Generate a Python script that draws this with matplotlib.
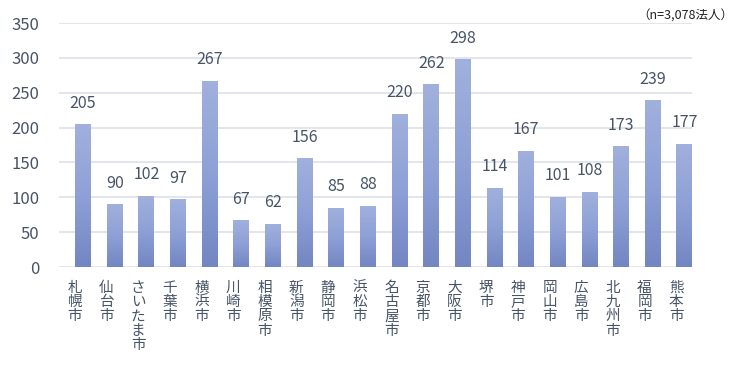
import numpy as np
import matplotlib
matplotlib.use("Agg")
import matplotlib.pyplot as plt
from matplotlib.colors import LinearSegmentedColormap

plt.rcParams['font.family'] = ['Noto Sans CJK JP', 'DejaVu Sans']

cities = ["札幌市", "仙台市", "さいたま市", "千葉市", "横浜市", "川崎市", "相模原市",
          "新潟市", "静岡市", "浜松市", "名古屋市", "京都市", "大阪市", "堺市",
          "神戸市", "岡山市", "広島市", "北九州市", "福岡市", "熊本市"]
counts = [205, 90, 102, 97, 267, 67, 62, 156, 85, 88, 220, 262, 298, 114,
          167, 101, 108, 173, 239, 177]
yticks = [0, 50, 100, 150, 200, 250, 300, 350]
note = "（n=3,078法人）"

text_col = "#475468"
grid_col = "#dfe3ea"

fig = plt.figure(figsize=(7.5, 3.65), dpi=100)
ax = fig.add_axes([59/750, 1-267/365, (692-59)/750, (267-23)/365])

x = np.arange(len(cities))
bars = ax.bar(x + 0.26, counts, width=0.5, color="none", zorder=3)

# vertical gradient in each bar, light on top, darker at the bottom
cmap = LinearSegmentedColormap.from_list("g", ["#7386c2", "#8ea0d6", "#a1b0dc"])
grad = np.linspace(0, 1, 256).reshape(-1, 1)
for b in bars:
    x0, y0 = b.get_x(), b.get_y()
    w, h = b.get_width(), b.get_height()
    im = ax.imshow(grad, cmap=cmap, origin="lower", aspect="auto",
                   extent=[x0, x0 + w, y0, y0 + h], zorder=3)
    im.set_clip_path(b)

for xi, v in zip(x, counts):
    ax.annotate(str(v), (xi + 0.26, v), xytext=(0, 9), textcoords="offset points",
                ha="center", va="bottom", fontsize=11.5, color=text_col)

ax.set_xlim(-0.5, len(cities) - 0.5)
ax.set_ylim(0, 350)
ax.set_yticks(yticks)
ax.set_xticks(x)
ax.set_xticklabels(["\n".join(c) for c in cities], fontsize=10.5, color=text_col,
                   linespacing=1.02, va="top")
ax.tick_params(axis="both", length=0)
ax.tick_params(axis="y", labelsize=12, labelcolor=text_col, pad=14)
ax.tick_params(axis="x", pad=10)
ax.grid(axis="y", color=grid_col, linewidth=1.3, zorder=0)
for s in ax.spines.values():
    s.set_visible(False)

fig.text(0.85, 0.955, note, fontsize=9, color="#222222", ha="left", va="center")

fig.savefig("out.png", dpi=100)
